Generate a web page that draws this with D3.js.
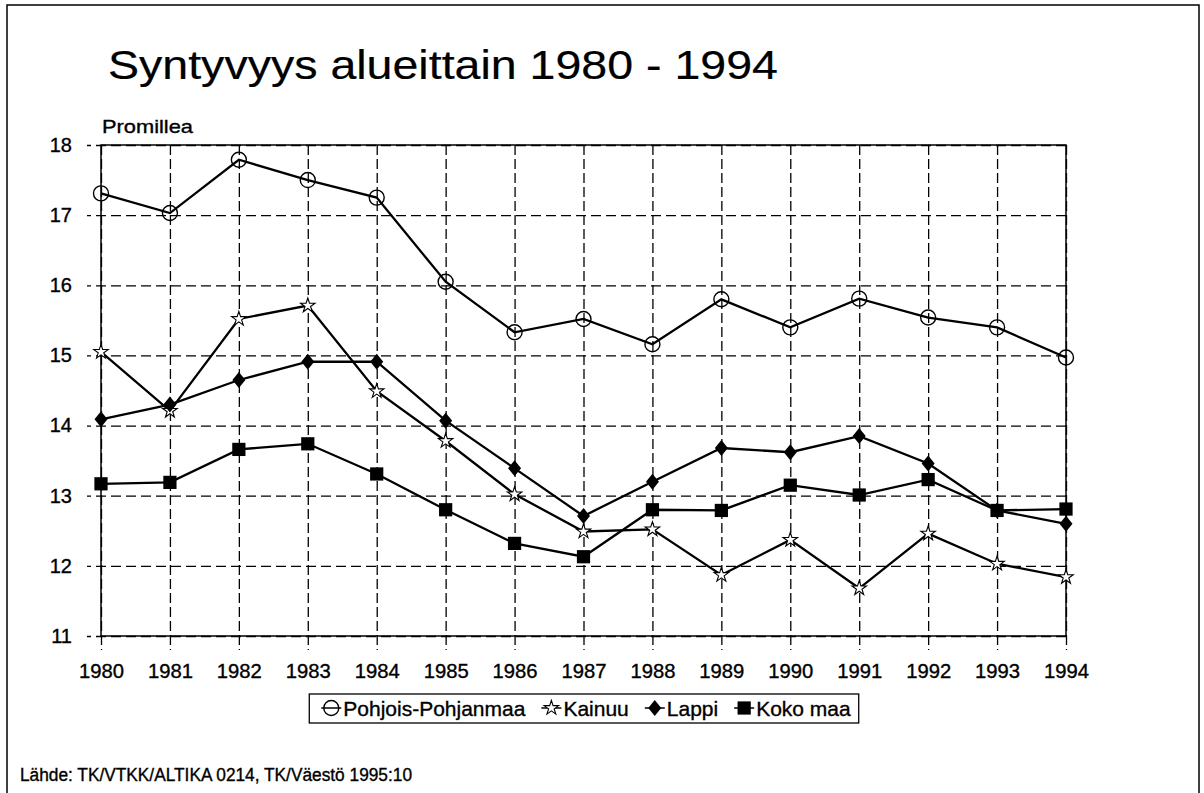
<!DOCTYPE html>
<html>
<head>
<meta charset="utf-8">
<script src="https://cdn.jsdelivr.net/npm/d3@7"></script>
<style>
  html, body { margin: 0; padding: 0; background: #fff; }
  svg { display: block; font-family: "Liberation Sans", Arial, sans-serif; }
  text { stroke: #000; stroke-width: 0.35px; fill: #000; }
</style>
</head>
<body>
<svg id="chart" width="1204" height="793"></svg>
<script>
// ---- data ----
const years = [1980,1981,1982,1983,1984,1985,1986,1987,1988,1989,1990,1991,1992,1993,1994];
const pohjoisPohjanmaa = [17.31,17.03,17.79,17.50,17.25,16.05,15.33,15.52,15.16,15.80,15.40,15.81,15.54,15.40,14.97];
const kainuu          = [15.05,14.21,15.52,15.71,14.49,13.78,13.02,12.49,12.52,11.87,12.37,11.68,12.46,12.03,11.84];
const lappi           = [14.09,14.30,14.65,14.91,14.91,14.07,13.39,12.71,13.20,13.68,13.62,13.85,13.46,12.79,12.60];
const kokoMaa         = [13.17,13.19,13.66,13.74,13.31,12.80,12.32,12.13,12.80,12.79,13.15,13.01,13.23,12.79,12.81];
const seriesNames = ["Pohjois-Pohjanmaa","Kainuu","Lappi","Koko maa"];
const yTicks = [11,12,13,14,15,16,17,18];
const titleText = "Syntyvyys alueittain 1980 - 1994";
const unitText = "Promillea";
const sourceText = "Lähde: TK/VTKK/ALTIKA 0214, TK/Väestö 1995:10";

const series = [
  {name: seriesNames[0], values: pohjoisPohjanmaa, sym: "circle"},
  {name: seriesNames[1], values: kainuu, sym: "star"},
  {name: seriesNames[2], values: lappi, sym: "diamond"},
  {name: seriesNames[3], values: kokoMaa, sym: "square"}
];

// ---- layout ----
const svg = d3.select("#chart");
const L = 101, R = 1066, T = 145, B = 636;
const x = d3.scaleLinear().domain([1980,1994]).range([L,R]);
const y = d3.scaleLinear().domain([11,18]).range([B,T]);

// outer frame
svg.append("rect").attr("x",7).attr("y",5).attr("width",1192).attr("height",800)
  .attr("fill","none").attr("stroke","#000").attr("stroke-width",1.5);

// title
svg.append("text").attr("x",108).attr("y",79)
  .attr("font-size",40).style("stroke-width","0.2px").attr("textLength",670).attr("lengthAdjust","spacingAndGlyphs")
  .text(titleText);

// unit label
svg.append("text").attr("x",102).attr("y",133).attr("font-size",19)
  .attr("textLength",91).attr("lengthAdjust","spacingAndGlyphs").text(unitText);

// y axis with gridlines (placed at right edge, ticks drawn leftwards)
const yAxis = svg.append("g").attr("transform",`translate(${R},0)`)
  .call(d3.axisLeft(y).tickValues(yTicks).tickSize(R-L+14).tickPadding(15).tickFormat(d3.format("d")));
yAxis.select(".domain").remove();
yAxis.selectAll(".tick line").attr("stroke","#000").attr("stroke-width",1.3).attr("stroke-dasharray","10,5");
yAxis.selectAll(".tick text").attr("font-size",20).attr("fill","#000")
  .attr("font-family","'Liberation Sans', Arial, sans-serif");

// x axis with gridlines (placed at top, ticks drawn downwards)
const xAxis = svg.append("g").attr("transform",`translate(0,${T})`)
  .call(d3.axisBottom(x).tickValues(years).tickSize(B-T+14).tickPadding(14).tickFormat(d3.format("d")));
xAxis.select(".domain").remove();
xAxis.selectAll(".tick line").attr("stroke","#000").attr("stroke-width",1.3).attr("stroke-dasharray","10,4");
xAxis.selectAll(".tick text").attr("font-size",20).attr("fill","#000")
  .attr("textLength",45).attr("lengthAdjust","spacingAndGlyphs")
  .attr("font-family","'Liberation Sans', Arial, sans-serif");

// plot border
svg.append("rect").attr("x",L).attr("y",T).attr("width",R-L).attr("height",B-T)
  .attr("fill","none").attr("stroke","#000").attr("stroke-width",1.5);

// lines
const line = d3.line().x((d,i)=>x(years[i])).y(d=>y(d));
const symGen = {
  star: d3.symbol().type(d3.symbolStar).size(65),
  square: d3.symbol().type(d3.symbolSquare).size(175)
};
function drawMarker(g, sym, cx, cy) {
  if (sym === "circle") {
    g.append("circle").attr("cx",cx).attr("cy",cy).attr("r",7.5)
      .attr("fill","none").attr("stroke","#000").attr("stroke-width",1.4);
  } else if (sym === "star") {
    g.append("path").attr("d",symGen.star()).attr("transform",`translate(${cx},${cy})`)
      .attr("fill","#fff").attr("stroke","#000").attr("stroke-width",1.1);
  } else if (sym === "diamond") {
    g.append("path").attr("d","M0,-8L6.5,0L0,8L-6.5,0Z").attr("transform",`translate(${cx},${cy})`)
      .attr("fill","#000");
  } else {
    g.append("path").attr("d",symGen.square()).attr("transform",`translate(${cx},${cy})`)
      .attr("fill","#000");
  }
}
series.forEach(s => {
  svg.append("path").datum(s.values).attr("d",line)
    .attr("fill","none").attr("stroke","#000").attr("stroke-width",2.3);
});
series.forEach(s => {
  const g = svg.append("g");
  s.values.forEach((v,i) => drawMarker(g, s.sym, x(years[i]), y(v)));
});

// legend
const lg = svg.append("g");
const ly = 708;
let cx = 0;
series.forEach((s,i) => {
  const it = lg.append("g");
  it.append("line").attr("x1",cx).attr("x2",cx+20).attr("y1",ly).attr("y2",ly)
    .attr("stroke","#000").attr("stroke-width",1.5);
  drawMarker(it, s.sym, cx+10, ly);
  const t = it.append("text").attr("x",cx+22).attr("y",ly+7.5).attr("font-size",21).text(s.name);
  cx += 22 + t.node().getComputedTextLength() + 16;
});
const legW = cx - 16;
const legLeft = 586 - legW/2;
lg.attr("transform",`translate(${legLeft},0)`);
svg.insert("rect", "g").attr("x",legLeft-12).attr("y",694).attr("width",legW+20).attr("height",29)
  .attr("fill","#fff").attr("stroke","#000").attr("stroke-width",1.3);

// source
svg.append("text").attr("x",20).attr("y",781).attr("font-size",18)
  .attr("textLength",392).attr("lengthAdjust","spacingAndGlyphs").text(sourceText);
</script>
</body>
</html>
